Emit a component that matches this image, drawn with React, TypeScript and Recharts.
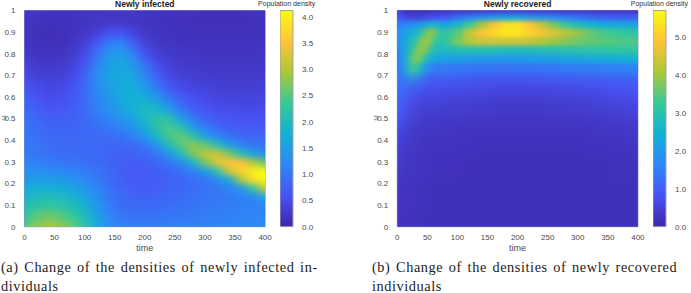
import React from 'react';
import { ScatterChart, Scatter, BarChart, Bar, XAxis, YAxis, ReferenceArea } from 'recharts';

const timeTicks = [0, 50, 100, 150, 200, 250, 300, 350, 400];
const omegaTicks = [0, 0.1, 0.2, 0.3, 0.4, 0.5, 0.6, 0.7, 0.8, 0.9, 1];

// parula, 8 evenly spaced samples
const PARULA = ['#3e26a8', '#4852f4', '#2d87f7', '#12b1d6', '#37c897', '#abc739', '#fec338', '#f9fb15'];

const infectedTimes = [0, 20, 40, 60, 80, 100, 120, 140, 160, 180, 200, 220, 240, 260, 280, 300, 320, 340, 360, 380, 400];
const infectedOmegas = [0, 0.05, 0.1, 0.14, 0.18, 0.22, 0.26, 0.3, 0.34, 0.38, 0.42, 0.46, 0.5, 0.55, 0.6, 0.65, 0.7, 0.75, 0.8, 0.85, 0.9, 0.95, 1];
const infectedDensity = [
  [2.5, 2.8, 2.95, 2.85, 2.6, 2.2, 1.7, 1.3, 1.1, 1.05, 1.05, 1.05, 1.05, 1.1, 1.1, 1.1, 1.15, 1.15, 1.2, 1.2, 1.2],
  [2.3, 2.55, 2.65, 2.55, 2.35, 2.0, 1.55, 1.2, 1.0, 0.95, 0.95, 0.95, 1.0, 1.0, 1.05, 1.05, 1.1, 1.1, 1.15, 1.15, 1.15],
  [2.05, 2.2, 2.3, 2.2, 2.05, 1.8, 1.4, 1.1, 0.9, 0.85, 0.85, 0.85, 0.9, 0.95, 0.95, 1.0, 1.05, 1.05, 1.1, 1.1, 1.15],
  [1.9, 2.0, 2.05, 2.0, 1.85, 1.6, 1.3, 1.0, 0.85, 0.8, 0.78, 0.8, 0.82, 0.88, 0.92, 0.98, 1.0, 1.05, 1.1, 1.2, 1.6],
  [1.7, 1.75, 1.75, 1.7, 1.6, 1.4, 1.15, 0.95, 0.8, 0.72, 0.7, 0.72, 0.78, 0.82, 0.9, 0.95, 1.0, 1.1, 1.4, 2.3, 3.2],
  [1.45, 1.5, 1.5, 1.45, 1.35, 1.2, 1.05, 0.9, 0.75, 0.68, 0.68, 0.7, 0.75, 0.82, 0.9, 1.0, 1.25, 1.7, 2.9, 3.8, 4.15],
  [1.3, 1.3, 1.25, 1.2, 1.15, 1.05, 0.95, 0.85, 0.72, 0.68, 0.68, 0.72, 0.8, 0.92, 1.1, 1.45, 2.2, 3.2, 3.7, 4.0, 4.1],
  [1.15, 1.1, 1.02, 0.98, 0.95, 0.92, 0.88, 0.8, 0.72, 0.7, 0.72, 0.8, 1.0, 1.25, 1.85, 2.7, 3.3, 3.55, 3.5, 3.0, 2.6],
  [1.08, 1.0, 0.95, 0.9, 0.88, 0.86, 0.84, 0.8, 0.75, 0.75, 0.82, 1.0, 1.4, 2.0, 2.7, 3.1, 3.2, 2.7, 2.1, 1.55, 1.25],
  [1.02, 0.98, 0.9, 0.85, 0.84, 0.84, 0.84, 0.82, 0.8, 0.85, 1.0, 1.4, 2.0, 2.5, 2.8, 2.6, 2.1, 1.55, 1.15, 1.0, 0.95],
  [1.0, 0.95, 0.85, 0.82, 0.82, 0.84, 0.86, 0.88, 0.92, 1.1, 1.4, 1.9, 2.4, 2.6, 2.2, 1.6, 1.2, 0.95, 0.85, 0.8, 0.8],
  [0.97, 0.88, 0.8, 0.78, 0.8, 0.84, 0.9, 0.98, 1.15, 1.35, 1.7, 2.2, 2.45, 2.2, 1.5, 1.1, 0.85, 0.75, 0.7, 0.68, 0.68],
  [0.95, 0.82, 0.72, 0.72, 0.76, 0.84, 1.0, 1.15, 1.35, 1.55, 1.9, 2.2, 2.15, 1.55, 1.05, 0.8, 0.68, 0.62, 0.58, 0.58, 0.58],
  [0.85, 0.72, 0.62, 0.62, 0.7, 0.85, 1.1, 1.3, 1.55, 1.75, 1.95, 1.85, 1.45, 1.0, 0.72, 0.6, 0.52, 0.5, 0.48, 0.48, 0.48],
  [0.75, 0.6, 0.52, 0.55, 0.65, 0.85, 1.15, 1.4, 1.65, 1.8, 1.75, 1.4, 1.0, 0.7, 0.55, 0.48, 0.42, 0.4, 0.4, 0.4, 0.4],
  [0.62, 0.5, 0.44, 0.46, 0.58, 0.85, 1.2, 1.5, 1.7, 1.72, 1.45, 1.02, 0.65, 0.5, 0.42, 0.38, 0.35, 0.34, 0.34, 0.34, 0.34],
  [0.5, 0.38, 0.33, 0.35, 0.48, 0.78, 1.25, 1.55, 1.7, 1.6, 1.2, 0.75, 0.48, 0.38, 0.33, 0.3, 0.28, 0.28, 0.28, 0.28, 0.28],
  [0.38, 0.28, 0.25, 0.28, 0.38, 0.65, 1.1, 1.5, 1.65, 1.45, 0.95, 0.55, 0.36, 0.3, 0.27, 0.25, 0.24, 0.23, 0.23, 0.24, 0.24],
  [0.28, 0.2, 0.18, 0.2, 0.28, 0.5, 0.95, 1.4, 1.5, 1.15, 0.6, 0.35, 0.27, 0.24, 0.22, 0.2, 0.2, 0.2, 0.2, 0.2, 0.2],
  [0.24, 0.16, 0.14, 0.16, 0.22, 0.35, 0.65, 1.05, 1.15, 0.75, 0.4, 0.25, 0.21, 0.19, 0.18, 0.17, 0.17, 0.17, 0.17, 0.17, 0.18],
  [0.22, 0.14, 0.12, 0.14, 0.18, 0.24, 0.35, 0.55, 0.6, 0.42, 0.25, 0.2, 0.17, 0.16, 0.15, 0.15, 0.15, 0.15, 0.15, 0.15, 0.16],
  [0.24, 0.18, 0.16, 0.16, 0.18, 0.2, 0.23, 0.26, 0.27, 0.23, 0.2, 0.17, 0.16, 0.15, 0.14, 0.14, 0.14, 0.14, 0.14, 0.15, 0.16],
  [0.26, 0.22, 0.2, 0.2, 0.2, 0.2, 0.22, 0.23, 0.24, 0.22, 0.2, 0.18, 0.17, 0.16, 0.16, 0.15, 0.15, 0.15, 0.15, 0.16, 0.17],
];
const infectedTicks = [0, 0.5, 1, 1.5, 2, 2.5, 3, 3.5, 4];
const infectedMax = 4.12;

const recoveredTimes = [0, 10, 20, 30, 40, 50, 60, 70, 80, 100, 120, 140, 160, 180, 200, 220, 240, 260, 280, 300, 320, 340, 360, 380, 400];
const recoveredOmegas = [0, 0.15, 0.3, 0.4, 0.45, 0.5, 0.55, 0.6, 0.65, 0.7, 0.74, 0.78, 0.82, 0.86, 0.9, 0.94, 0.97, 1];
const recoveredDensity = [
  [0.25, 0.22, 0.2, 0.2, 0.2, 0.2, 0.2, 0.2, 0.2, 0.2, 0.2, 0.2, 0.2, 0.2, 0.2, 0.2, 0.2, 0.2, 0.2, 0.2, 0.2, 0.2, 0.2, 0.2, 0.2],
  [0.3, 0.26, 0.24, 0.22, 0.22, 0.22, 0.2, 0.2, 0.2, 0.2, 0.2, 0.2, 0.2, 0.2, 0.2, 0.2, 0.2, 0.2, 0.2, 0.2, 0.2, 0.2, 0.2, 0.2, 0.22],
  [0.38, 0.32, 0.28, 0.27, 0.25, 0.25, 0.24, 0.22, 0.22, 0.21, 0.2, 0.2, 0.2, 0.2, 0.2, 0.2, 0.2, 0.2, 0.2, 0.2, 0.2, 0.2, 0.22, 0.22, 0.24],
  [0.52, 0.42, 0.34, 0.3, 0.3, 0.28, 0.26, 0.25, 0.25, 0.25, 0.24, 0.23, 0.22, 0.22, 0.22, 0.22, 0.22, 0.22, 0.22, 0.23, 0.24, 0.25, 0.26, 0.28, 0.3],
  [0.68, 0.52, 0.42, 0.36, 0.34, 0.32, 0.3, 0.3, 0.3, 0.28, 0.27, 0.26, 0.25, 0.25, 0.25, 0.25, 0.25, 0.25, 0.26, 0.27, 0.28, 0.3, 0.32, 0.34, 0.36],
  [0.88, 0.7, 0.52, 0.44, 0.4, 0.38, 0.36, 0.35, 0.35, 0.34, 0.32, 0.3, 0.3, 0.3, 0.3, 0.3, 0.3, 0.3, 0.31, 0.32, 0.34, 0.36, 0.38, 0.42, 0.46],
  [1.05, 0.88, 0.66, 0.54, 0.5, 0.46, 0.44, 0.44, 0.44, 0.42, 0.4, 0.38, 0.36, 0.36, 0.36, 0.36, 0.36, 0.37, 0.38, 0.4, 0.42, 0.46, 0.5, 0.54, 0.58],
  [1.15, 1.05, 0.8, 0.68, 0.62, 0.6, 0.58, 0.58, 0.58, 0.56, 0.52, 0.5, 0.47, 0.45, 0.45, 0.45, 0.46, 0.48, 0.5, 0.53, 0.56, 0.6, 0.64, 0.68, 0.72],
  [1.2, 1.18, 1.0, 0.9, 0.84, 0.8, 0.78, 0.78, 0.76, 0.74, 0.7, 0.67, 0.65, 0.64, 0.64, 0.65, 0.66, 0.68, 0.7, 0.72, 0.75, 0.78, 0.82, 0.85, 0.88],
  [1.25, 1.5, 2.2, 2.0, 1.5, 1.15, 1.05, 1.05, 1.05, 1.02, 0.98, 0.95, 0.92, 0.92, 0.92, 0.94, 0.96, 0.98, 1.0, 1.02, 1.05, 1.08, 1.1, 1.12, 1.14],
  [1.35, 1.85, 3.0, 3.4, 2.5, 1.7, 1.45, 1.42, 1.42, 1.4, 1.36, 1.34, 1.32, 1.32, 1.32, 1.34, 1.36, 1.38, 1.42, 1.44, 1.48, 1.5, 1.52, 1.55, 1.58],
  [1.45, 2.05, 3.0, 3.9, 3.5, 2.7, 2.3, 2.2, 2.15, 2.1, 2.05, 2.0, 2.0, 2.0, 2.0, 2.05, 2.1, 2.15, 2.2, 2.25, 2.3, 2.35, 2.4, 2.45, 2.5],
  [1.55, 2.1, 2.8, 3.5, 4.1, 3.5, 2.8, 2.7, 2.75, 2.85, 2.9, 2.9, 2.85, 2.8, 2.75, 2.8, 2.85, 2.9, 2.95, 3.0, 3.05, 3.1, 3.1, 3.1, 3.1],
  [1.7, 2.1, 2.6, 3.0, 3.8, 4.1, 3.3, 3.0, 3.1, 3.7, 4.15, 4.35, 4.4, 4.4, 4.4, 4.3, 4.1, 3.95, 3.8, 3.65, 3.55, 3.5, 3.45, 3.4, 3.4],
  [1.85, 2.0, 2.3, 2.6, 3.0, 3.8, 3.9, 3.0, 3.1, 3.5, 4.3, 4.8, 5.15, 5.4, 5.35, 5.1, 4.8, 4.5, 4.2, 3.9, 3.6, 3.4, 3.25, 3.15, 3.1],
  [1.5, 1.6, 1.7, 1.8, 2.0, 2.4, 2.7, 2.3, 2.2, 2.6, 3.3, 4.0, 4.8, 5.3, 5.35, 4.9, 4.3, 3.7, 3.2, 2.8, 2.5, 2.35, 2.3, 2.25, 2.2],
  [0.95, 0.7, 0.6, 0.55, 0.6, 0.7, 0.8, 0.85, 0.95, 1.3, 1.6, 1.9, 2.1, 2.2, 2.2, 2.0, 1.9, 1.7, 1.5, 1.4, 1.2, 1.1, 1.0, 1.0, 1.0],
  [0.7, 0.3, 0.2, 0.2, 0.2, 0.22, 0.25, 0.28, 0.3, 0.35, 0.4, 0.45, 0.5, 0.5, 0.5, 0.5, 0.48, 0.45, 0.42, 0.4, 0.38, 0.36, 0.35, 0.35, 0.35],
];
const recoveredTicks = [0, 1, 2, 3, 4, 5];
const recoveredMax = 5.69;

const FONT = '"Liberation Sans", Arial, sans-serif';
const TICK = { fill: '#4a4a4a', fontSize: 8, fontFamily: FONT };
const PLOT_W = 240.6;
const PLOT_H = 216.2;
const PLOT_TOP = 10.5;

const parula = (v: number, max: number) => {
  const f = Math.min(Math.max(v / max, 0), 1) * (PARULA.length - 1);
  const i = Math.min(Math.floor(f), PARULA.length - 2);
  const t = f - i;
  const hex = (s: string, k: number) => parseInt(s.slice(1 + k * 2, 3 + k * 2), 16);
  const ch = [0, 1, 2].map((k) => Math.round(hex(PARULA[i], k) * (1 - t) + hex(PARULA[i + 1], k) * t));
  return `rgb(${ch.join(',')})`;
};

const buildCells = (times: number[], omegas: number[], grid: number[][]) =>
  omegas.flatMap((omega, j) =>
    times.map((time, i) => ({
      time,
      omega,
      density: grid[j][i],
      left: i === 0 ? 0 : (time - times[i - 1]) / 2,
      right: i === times.length - 1 ? 0 : (times[i + 1] - time) / 2,
      down: j === 0 ? 0 : (omega - omegas[j - 1]) / 2,
      up: j === omegas.length - 1 ? 0 : (omegas[j + 1] - omega) / 2,
    }))
  );

// one heatmap cell; edge cells run past the frame so the blur does not fade out at the border
const cellShape = (max: number) => (props: any) => {
  const { cx, cy, payload: p } = props;
  const pxT = PLOT_W / 400;
  const l = p.left ? p.left * pxT : 14;
  const r = p.right ? p.right * pxT : 14;
  const u = p.up ? p.up * PLOT_H : 14;
  const d = p.down ? p.down * PLOT_H : 14;
  return <rect x={cx - l} y={cy - u} width={l + r + 0.6} height={u + d + 0.6} fill={parula(p.density, max)} />;
};

interface PanelProps {
  id: string;
  left: number;
  width: number;
  axisWidth: number;
  barLeft: number;
  title: string;
  times: number[];
  omegas: number[];
  grid: number[][];
  max: number;
  ticks: number[];
  omegaX: number;
  blur: string;
  // rows from this omega up get a tighter blur on a second layer
  sharpFrom?: number;
  sharpBlur?: string;
}

const Panel = ({ id, left, width, axisWidth, barLeft, title, times, omegas, grid, max, ticks, omegaX, blur, sharpFrom, sharpBlur }: PanelProps) => {
  const cells = buildCells(times, omegas, grid);
  const sharpCells = sharpFrom === undefined ? [] : cells.filter((c) => c.omega >= sharpFrom);
  const barX = barLeft - left;
  return (
    <>
      <div style={{ position: 'absolute', left, top: 0 }}>
        <ScatterChart
          width={width}
          height={256}
          margin={{ top: PLOT_TOP, right: width - axisWidth - PLOT_W, bottom: 0, left: 0 }}
        >
          <defs>
            <filter id={`blur-${id}`} filterUnits="userSpaceOnUse" x={-30} y={-30} width={width + 60} height={310} colorInterpolationFilters="sRGB">
              <feGaussianBlur stdDeviation={blur} />
            </filter>
            <filter id={`sharp-${id}`} filterUnits="userSpaceOnUse" x={-30} y={-30} width={width + 60} height={310} colorInterpolationFilters="sRGB">
              <feGaussianBlur stdDeviation={sharpBlur ?? blur} />
            </filter>
            <clipPath id={`clip-${id}`}>
              <rect x={axisWidth} y={PLOT_TOP} width={PLOT_W} height={PLOT_H} />
            </clipPath>
          </defs>
          <style>{`.heat-${id}{filter:url(#blur-${id});clip-path:url(#clip-${id})}
.top-${id}{filter:url(#sharp-${id});clip-path:url(#clip-${id})}`}</style>
          <XAxis
            type="number"
            dataKey="time"
            domain={[0, 400]}
            ticks={timeTicks}
            interval={0}
            height={29.3}
            tick={TICK}
            tickLine={false}
            axisLine={false}
            tickMargin={2}
          />
          <YAxis
            type="number"
            dataKey="omega"
            domain={[0, 1]}
            ticks={omegaTicks}
            interval={0}
            width={axisWidth}
            tick={TICK}
            tickLine={false}
            axisLine={false}
            tickMargin={3}
          />
          <Scatter className={`heat-${id}`} data={cells} shape={cellShape(max)} isAnimationActive={false} />
          {sharpCells.length > 0 && (
            <Scatter className={`top-${id}`} data={sharpCells} shape={cellShape(max)} isAnimationActive={false} />
          )}
          <ReferenceArea x1={0} x2={400} y1={0} y2={1} fill="none" stroke="#8f90c4" strokeWidth={1} />
          <text x={axisWidth + PLOT_W / 2} y={7} textAnchor="middle" fontSize={8.5} fontWeight="bold" fontFamily={FONT} fill="#222">
            {title}
          </text>
          <text x={barX + 6.7} y={6} textAnchor="middle" fontSize={7} fontFamily={FONT} fill="#333">
            Population density
          </text>
          <text x={axisWidth + PLOT_W / 2} y={251} textAnchor="middle" fontSize={9} fontFamily={FONT} fill="#4a4a4a">
            time
          </text>
          <text transform={`translate(${omegaX},118) rotate(-90)`} textAnchor="middle" fontSize={6.5} fontFamily={FONT} fill="#4a4a4a">
            ω
          </text>
        </ScatterChart>
      </div>
      <div style={{ position: 'absolute', left: barLeft, top: 0 }}>
        <BarChart
          width={40}
          height={256}
          data={[{ name: 'density', density: max }]}
          margin={{ top: PLOT_TOP, right: 0, bottom: 29.3, left: 0 }}
          barCategoryGap={0}
        >
          <defs>
            <linearGradient id={`bar-${id}`} x1="0" y1="1" x2="0" y2="0">
              {PARULA.map((c, i) => (
                <stop key={c} offset={i / (PARULA.length - 1)} stopColor={c} />
              ))}
            </linearGradient>
          </defs>
          <XAxis dataKey="name" hide />
          <YAxis
            orientation="right"
            domain={[0, max]}
            ticks={ticks}
            interval={0}
            width={27}
            tick={TICK}
            tickFormatter={(v: number) => v.toFixed(1)}
            tickLine={false}
            axisLine={false}
            tickMargin={3}
          />
          <Bar dataKey="density" fill={`url(#bar-${id})`} stroke="#a3a3a3" strokeWidth={1} isAnimationActive={false} />
        </BarChart>
      </div>
    </>
  );
};

const CAPTION: React.CSSProperties = {
  position: 'absolute',
  fontFamily: '"Liberation Serif", serif',
  fontSize: 14.3,
  lineHeight: '19px',
  letterSpacing: 0.58,
  wordSpacing: 1.5,
  color: '#222',
  whiteSpace: 'nowrap',
};

export default function App() {
  return (
    <div style={{ position: 'absolute', left: 0, top: 0, width: 691, height: 293, overflow: 'hidden', background: '#fff' }}>
      <Panel
        id="a"
        left={0}
        width={345}
        axisWidth={24.5}
        barLeft={280}
        title="Newly infected"
        times={infectedTimes}
        omegas={infectedOmegas}
        grid={infectedDensity}
        max={infectedMax}
        ticks={infectedTicks}
        omegaX={6}
        blur="4 3.2"
      />
      <Panel
        id="b"
        left={345}
        width={346}
        axisWidth={52.3}
        barLeft={652.7}
        title="Newly recovered"
        times={recoveredTimes}
        omegas={recoveredOmegas}
        grid={recoveredDensity}
        max={recoveredMax}
        ticks={recoveredTicks}
        omegaX={33}
        blur="5 7"
        sharpFrom={0.74}
        sharpBlur="3 2"
      />
      <div style={{ ...CAPTION, left: 1, top: 258 }}>
        (a) Change of the densities of newly infected in-
        <br />
        dividuals
      </div>
      <div style={{ ...CAPTION, left: 372, top: 258 }}>
        (b) Change of the densities of newly recovered
        <br />
        individuals
      </div>
    </div>
  );
}
